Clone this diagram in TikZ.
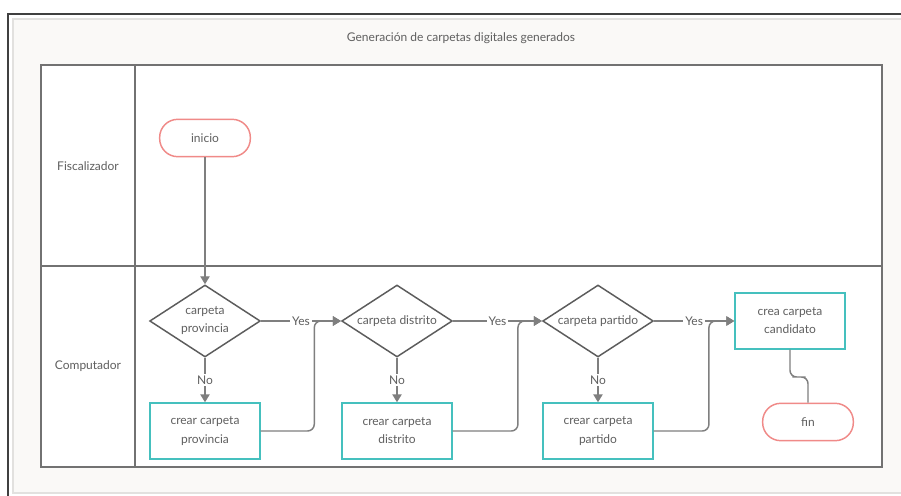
\documentclass[tikz,border=0pt]{standalone}
\usepackage{fontspec}
\setmainfont{Lato}
\usepackage{xcolor}
\usetikzlibrary{shapes.geometric,arrows.meta}
\definecolor{linegray}{HTML}{7F7F7F}
\definecolor{diagray}{HTML}{5C5C5C}
\definecolor{txtgray}{HTML}{5F5F5F}
\definecolor{boxteal}{HTML}{45C0BE}
\definecolor{termred}{HTML}{F08A88}
\definecolor{panelbg}{HTML}{FAF9F7}
\definecolor{panelline}{HTML}{E2E1DF}

\begin{document}
\begin{tikzpicture}[x=0.75pt, y=-0.75pt,
  every node/.style={font=\fontsize{9}{13.5}\selectfont, text=txtgray},
  term/.style={rectangle, draw=termred, line width=1.1pt, rounded corners=13.5pt,
    minimum width=68pt, minimum height=28pt, fill=white},
  decision/.style={diamond, draw=diagray, line width=1.1pt, inner sep=0pt,
    minimum width=83pt, minimum height=54pt, fill=white},
  process/.style={rectangle, draw=boxteal, line width=1.1pt, align=center,
    minimum width=82.5pt, minimum height=42pt, fill=white},
  flow/.style={draw=linegray, line width=1.1pt, -{Triangle[width=7pt,length=6pt]}},
  link/.style={draw=linegray, line width=1.1pt},
  answer/.style={fill=white, inner sep=1.5pt}]
  \useasboundingbox (0,0) rectangle (901,496);
  % Panel
  \fill[white] (0,0) rectangle (901,496);
  \draw[panelline, fill=panelbg, line width=1pt] (13,19) rectangle (905,493);
  \draw[black!75, line width=1pt] (8,496) -- (8,14) -- (901,14);
  \node (title) at (461,38) {Generación de carpetas digitales generados};
  % Lanes
  \draw[linegray!90!black, fill=white, line width=1.4pt] (41,65) rectangle (882,467);
  \draw[linegray!90!black, line width=1.4pt] (135,65) -- (135,467);
  \draw[linegray!90!black, line width=1.4pt] (41,266) -- (882,266);
  \node (lane1) at (88,166) {Fiscalizador};
  \node (lane2) at (88,366) {Computador};
  % Nodes
  \node[term] (inicio) at (205,138) {inicio};
  \node[decision, label={[align=center]center:carpeta\\provincia}] (d1) at (205,321) {};
  \node[decision, label={center:carpeta distrito}] (d2) at (397,321) {};
  \node[decision, label={center:carpeta partido}] (d3) at (598,321) {};
  \node[process] (b1) at (205,431) {crear carpeta\\provincia};
  \node[process] (b2) at (397,431) {crear carpeta\\distrito};
  \node[process] (b3) at (598,431) {crear carpeta\\partido};
  \node[process] (cand) at (790,321) {crea carpeta\\candidato};
  \node[term] (fin) at (808,422) {fin};
  \coordinate (bend) at (799,377);
  % Connectors
  \draw[flow] (inicio) -- (d1);
  \draw[flow] (d1) -- node[answer] {No} (b1);
  \draw[flow] (d2) -- node[answer] {No} (b2);
  \draw[flow] (d3) -- node[answer] {No} (b3);
  \draw[flow] (d1) -- node[answer] {Yes} (d2);
  \draw[flow] (d2) -- node[answer] {Yes} (d3);
  \draw[flow] (d3) -- node[answer] {Yes} (cand);
  \draw[flow, rounded corners=5pt] (b1.east) -| ([xshift=-20pt]d2.west) -- (d2.west);
  \draw[flow, rounded corners=5pt] (b2.east) -| ([xshift=-18pt]d3.west) -- (d3.west);
  \draw[flow, rounded corners=5pt] (b3.east) -| ([xshift=-19pt]cand.west) -- (cand.west);
  \draw[link, rounded corners=5pt] (cand.south) |- (bend) -| (fin.north);
\end{tikzpicture}
\end{document}
